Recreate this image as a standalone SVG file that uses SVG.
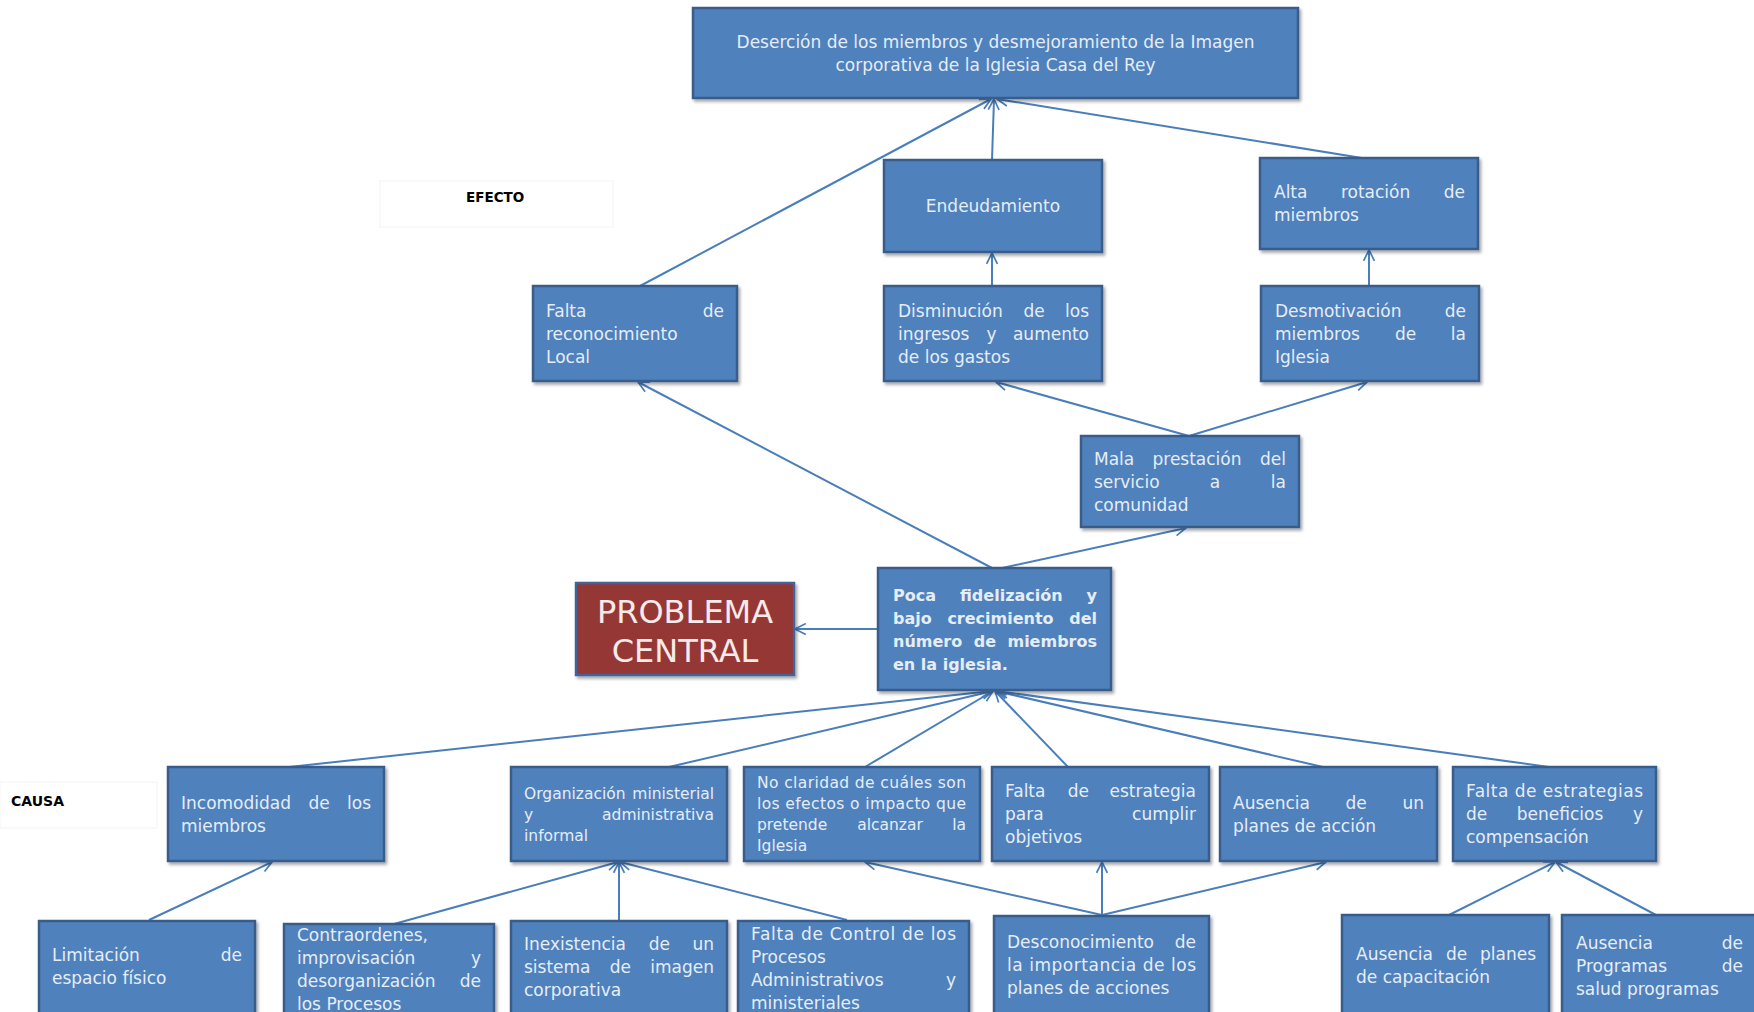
<svg xmlns="http://www.w3.org/2000/svg" width="1754" height="1012" viewBox="0 0 1754 1012">
<defs>
<style>
.box{fill:#4f81bd;stroke:#385d8a;stroke-width:2.5;filter:url(#sh)}
.red{fill:#953735;stroke:#40639a;stroke-width:2.5;filter:url(#sh)}
.faint{fill:#ffffff;stroke:#f3f3f3;stroke-width:1}
text{font-family:"DejaVu Sans","Liberation Sans",sans-serif;fill:#e6edf6;font-size:17px}
.s{font-size:15.5px}
.b{font-weight:bold;font-size:16px}
.e{text-anchor:end}
.m{text-anchor:middle}
.lab{fill:#000000;font-weight:bold;font-size:14px}
.big{font-size:32px;fill:#f6eaea;text-anchor:middle}
.c line{stroke:#4a7ebb;stroke-width:2;marker-end:url(#ar)}
</style>
<filter id="sh" x="-10%" y="-10%" width="120%" height="130%">
<feDropShadow dx="2" dy="2.5" stdDeviation="1.5" flood-color="#000" flood-opacity="0.35"/>
</filter>
<marker id="ar" viewBox="0 0 12 12" refX="11" refY="6" markerWidth="13" markerHeight="13" markerUnits="userSpaceOnUse" orient="auto">
<path d="M1,1 L11,6 L1,11" fill="none" stroke="#4a7ebb" stroke-width="1.6"/>
</marker>
</defs>
<rect width="1754" height="1012" fill="#ffffff"/>

<g id="connectors" class="c">
<line x1="640" y1="286" x2="991" y2="99"/>
<line x1="992" y1="160" x2="994" y2="99"/>
<line x1="1362" y1="158" x2="997" y2="99"/>
<line x1="992" y1="286" x2="992" y2="253"/>
<line x1="1369" y1="286" x2="1369" y2="250"/>
<line x1="1189" y1="436" x2="996" y2="382"/>
<line x1="1189" y1="436" x2="1367" y2="382"/>
<line x1="992" y1="568" x2="638" y2="382"/>
<line x1="1002" y1="568" x2="1186" y2="528"/>
<line x1="878" y1="629" x2="795" y2="629"/>
<line x1="289" y1="767" x2="992" y2="691"/>
<line x1="669" y1="767" x2="993" y2="691"/>
<line x1="865" y1="767" x2="993" y2="691"/>
<line x1="1068" y1="767" x2="995" y2="691"/>
<line x1="1323" y1="767" x2="996" y2="691"/>
<line x1="1549" y1="767" x2="997" y2="691"/>
<line x1="149" y1="920" x2="272" y2="862"/>
<line x1="394" y1="924" x2="618" y2="862"/>
<line x1="619" y1="920" x2="619" y2="862"/>
<line x1="847" y1="920" x2="620" y2="862"/>
<line x1="1102" y1="915" x2="865" y2="862"/>
<line x1="1102" y1="915" x2="1102" y2="862"/>
<line x1="1102" y1="915" x2="1326" y2="862"/>
<line x1="1449" y1="915" x2="1555" y2="862"/>
<line x1="1656" y1="915" x2="1556" y2="862"/>
</g>

<g id="n-top">
<rect class="box" x="693" y="8" width="605" height="90"/>
<text class="m" x="995.5" y="48">Deserción de los miembros y desmejoramiento de la Imagen</text>
<text class="m" x="995.5" y="71">corporativa de la Iglesia Casa del Rey</text>
</g>

<g id="n-efecto">
<rect class="faint" x="380" y="181" width="233" height="46"/>
<text class="lab" x="466" y="202" style="font-size:13.5px">EFECTO</text>
</g>

<g id="n-endeud">
<rect class="box" x="884" y="160" width="218" height="92"/>
<text class="m" x="993" y="212">Endeudamiento</text>
</g>

<g id="n-alta">
<rect class="box" x="1260" y="158" width="218" height="91"/>
<text x="1274" y="198">Alta</text><text class="m" x="1375.6" y="198">rotación</text><text class="e" x="1465" y="198">de</text>
<text x="1274" y="221">miembros</text>
</g>

<g id="n-faltarec">
<rect class="box" x="533" y="286" width="204" height="95"/>
<text x="546" y="316.5">Falta</text><text class="e" x="724" y="316.5">de</text>
<text x="546" y="339.5">reconocimiento</text>
<text x="546" y="362.5">Local</text>
</g>

<g id="n-dismin">
<rect class="box" x="884" y="286" width="218" height="95"/>
<text x="898" y="316.5">Disminución</text><text class="m" x="1034" y="316.5">de</text><text class="e" x="1089" y="316.5">los</text>
<text x="898" y="339.5">ingresos</text><text class="m" x="991.5" y="339.5">y</text><text class="e" x="1089" y="339.5">aumento</text>
<text x="898" y="362.5">de los gastos</text>
</g>

<g id="n-desmot">
<rect class="box" x="1261" y="286" width="218" height="95"/>
<text x="1275" y="316.5">Desmotivación</text><text class="e" x="1466" y="316.5">de</text>
<text x="1275" y="339.5">miembros</text><text class="m" x="1405.6" y="339.5">de</text><text class="e" x="1466" y="339.5">la</text>
<text x="1275" y="362.5">Iglesia</text>
</g>

<g id="n-mala">
<rect class="box" x="1081" y="436" width="218" height="91"/>
<text x="1094" y="464.5">Mala</text><text class="m" x="1197" y="464.5">prestación</text><text class="e" x="1286" y="464.5">del</text>
<text x="1094" y="487.5">servicio</text><text class="m" x="1215" y="487.5">a</text><text class="e" x="1286" y="487.5">la</text>
<text x="1094" y="510.5">comunidad</text>
</g>

<g id="n-poca">
<rect class="box" x="878" y="568" width="233" height="122"/>
<text class="b" x="893" y="600.5">Poca</text><text class="b m" x="1011.3" y="600.5">fidelización</text><text class="b e" x="1097" y="600.5">y</text>
<text class="b" x="893" y="623.5">bajo</text><text class="b m" x="1000.5" y="623.5">crecimiento</text><text class="b e" x="1097" y="623.5">del</text>
<text class="b" x="893" y="646.5">número</text><text class="b m" x="985" y="646.5">de</text><text class="b e" x="1097" y="646.5">miembros</text>
<text class="b" x="893" y="669.5">en  la iglesia.</text>
</g>

<g id="n-problema">
<rect class="red" x="576" y="583" width="218" height="92"/>
<text class="big" x="685" y="623">PROBLEMA</text>
<text class="big" x="685" y="662">CENTRAL</text>
</g>

<g id="n-causa">
<rect class="faint" x="0" y="782" width="157" height="46"/>
<text class="lab" x="11" y="806">CAUSA</text>
</g>

<g id="n-incom">
<rect class="box" x="168" y="767" width="216" height="94"/>
<text x="181" y="808.5">Incomodidad</text><text class="m" x="319" y="808.5">de</text><text class="e" x="371" y="808.5">los</text>
<text x="181" y="831.5">miembros</text>
</g>

<g id="n-organ">
<rect class="box" x="511" y="767" width="216" height="94"/>
<text class="s" x="524" y="798.5">Organización</text><text class="s e" x="714" y="798.5">ministerial</text>
<text class="s" x="524" y="819.5">y</text><text class="s e" x="714" y="819.5">administrativa</text>
<text class="s" x="524" y="840.5">informal</text>
</g>

<g id="n-noclar">
<rect class="box" x="744" y="767" width="236" height="94"/>
<text class="s" x="757" y="788" textLength="209" lengthAdjust="spacing">No claridad de cuáles son</text>
<text class="s" x="757" y="809" textLength="209" lengthAdjust="spacing">los efectos o impacto que</text>
<text class="s" x="757" y="830">pretende</text><text class="s m" x="890" y="830">alcanzar</text><text class="s e" x="966" y="830">la</text>
<text class="s" x="757" y="851">Iglesia</text>
</g>

<g id="n-festr">
<rect class="box" x="992" y="767" width="217" height="94"/>
<text x="1005" y="797">Falta</text><text class="m" x="1078.3" y="797">de</text><text class="e" x="1196" y="797">estrategia</text>
<text x="1005" y="820">para</text><text class="e" x="1196" y="820">cumplir</text>
<text x="1005" y="843">objetivos</text>
</g>

<g id="n-ausun">
<rect class="box" x="1220" y="767" width="217" height="94"/>
<text x="1233" y="808.5">Ausencia</text><text class="m" x="1356.2" y="808.5">de</text><text class="e" x="1424" y="808.5">un</text>
<text x="1233" y="831.5">planes de acción</text>
</g>

<g id="n-fbenef">
<rect class="box" x="1453" y="767" width="203" height="94"/>
<text x="1466" y="797" textLength="177" lengthAdjust="spacing">Falta de estrategias</text>
<text x="1466" y="820">de</text><text class="m" x="1560" y="820">beneficios</text><text class="e" x="1643" y="820">y</text>
<text x="1466" y="843">compensación</text>
</g>

<g id="n-limit">
<rect class="box" x="39" y="921" width="216" height="110"/>
<text x="52" y="961">Limitación</text><text class="e" x="242" y="961">de</text>
<text x="52" y="984">espacio físico</text>
</g>

<g id="n-contra">
<rect class="box" x="284" y="924" width="210" height="110"/>
<text x="297" y="941">Contraordenes,</text>
<text x="297" y="964">improvisación</text><text class="e" x="481" y="964">y</text>
<text x="297" y="987">desorganización</text><text class="e" x="481" y="987">de</text>
<text x="297" y="1010">los Procesos</text>
</g>

<g id="n-inex">
<rect class="box" x="511" y="921" width="216" height="110"/>
<text x="524" y="950">Inexistencia</text><text class="m" x="659.4" y="950">de</text><text class="e" x="714" y="950">un</text>
<text x="524" y="973">sistema</text><text class="m" x="620.4" y="973">de</text><text class="e" x="714" y="973">imagen</text>
<text x="524" y="996">corporativa</text>
</g>

<g id="n-fcontrol">
<rect class="box" x="738" y="921" width="231" height="110"/>
<text x="751" y="940" textLength="205" lengthAdjust="spacing">Falta de Control de los</text>
<text x="751" y="963">Procesos</text>
<text x="751" y="986">Administrativos</text><text class="e" x="956" y="986">y</text>
<text x="751" y="1009">ministeriales</text>
</g>

<g id="n-descon">
<rect class="box" x="994" y="916" width="215" height="115"/>
<text x="1007" y="948">Desconocimiento</text><text class="e" x="1196" y="948">de</text>
<text x="1007" y="971" textLength="189" lengthAdjust="spacing">la importancia de los</text>
<text x="1007" y="994">planes de acciones</text>
</g>

<g id="n-auscap">
<rect class="box" x="1342" y="915" width="207" height="116"/>
<text x="1356" y="960">Ausencia</text><text class="m" x="1456.5" y="960">de</text><text class="e" x="1536" y="960">planes</text>
<text x="1356" y="983">de capacitación</text>
</g>

<g id="n-ausprog">
<rect class="box" x="1562" y="915" width="210" height="116"/>
<text x="1576" y="949">Ausencia</text><text class="e" x="1743" y="949">de</text>
<text x="1576" y="972">Programas</text><text class="e" x="1743" y="972">de</text>
<text x="1576" y="995">salud programas</text>
</g>
</svg>
